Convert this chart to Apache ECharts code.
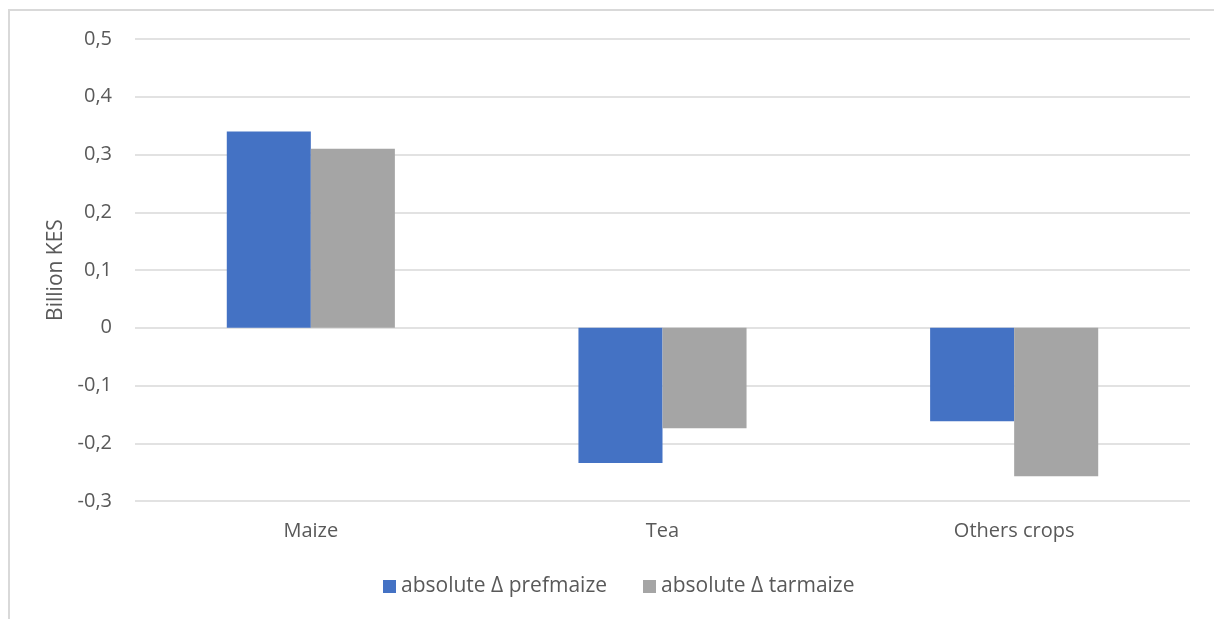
<!DOCTYPE html>
<html>
<head>
<meta charset="utf-8">
<script src="https://cdn.jsdelivr.net/npm/echarts@6/dist/echarts.min.js"></script>
<style>
html,body{margin:0;padding:0;background:#fff;}
.frame{
    position:absolute;left:8px;top:9px;width:1220px;height:620px;
    border-left:2px solid #d9d9d9;border-top:2px solid #d9d9d9;
    box-sizing:border-box;
}
#chart{position:absolute;left:0;top:0;width:1214px;height:619px;}
</style>
</head>
<body>
<div class="frame"></div>
<div id="chart"></div>
<script>
// categories & values (billion KES)
var categories = ['Maize', 'Tea', 'Others crops'];
var prefmaize = [0.34, -0.234, -0.162];
var tarmaize = [0.31, -0.174, -0.257];
var seriesNames = ['absolute Δ prefmaize', 'absolute Δ tarmaize'];
var colors = ['#4472C4', '#A5A5A5'];

var font = '"Open Sans", "Liberation Sans", sans-serif';
var myChart = echarts.init(document.getElementById('chart'));
var option = {
    color: colors,
    animation: false,
    grid: {
        left: 135,
        right: 24,
        top: 39,
        bottom: 118
    },
    legend: {
        left: 378,
        top: 571,
        itemWidth: 13,
        itemHeight: 13,
        itemGap: 36,
        icon: 'rect',
        textStyle: { color: '#595959', fontSize: 21, fontFamily: font },
        data: seriesNames
    },
    xAxis: {
        type: 'category',
        data: categories,
        axisLine: { show: false },
        axisTick: { show: false },
        axisLabel: { color: '#595959', fontSize: 20, fontFamily: font, margin: 20 }
    },
    yAxis: {
        type: 'value',
        min: -0.3,
        max: 0.5,
        interval: 0.1,
        name: 'Billion KES',
        nameLocation: 'middle',
        nameGap: 66,
        nameTextStyle: { color: '#595959', fontSize: 21, fontFamily: font },
        axisLine: { show: false },
        axisTick: { show: false },
        splitLine: { lineStyle: { color: '#d9d9d9', width: 1.5 } },
        axisLabel: {
            color: '#595959', fontSize: 20, fontFamily: font, margin: 23,
            formatter: function (v) {
                var s = (Math.round(v * 10) / 10).toString();
                return s.replace('.', ',');
            }
        }
    },
    series: [
        {
            name: seriesNames[0],
            type: 'bar',
            barWidth: '23.9%',
            barGap: '0%',
            data: prefmaize
        },
        {
            name: seriesNames[1],
            type: 'bar',
            barWidth: '23.9%',
            barGap: '0%',
            data: tarmaize
        }
    ]
};
myChart.setOption(option);
</script>
</body>
</html>
